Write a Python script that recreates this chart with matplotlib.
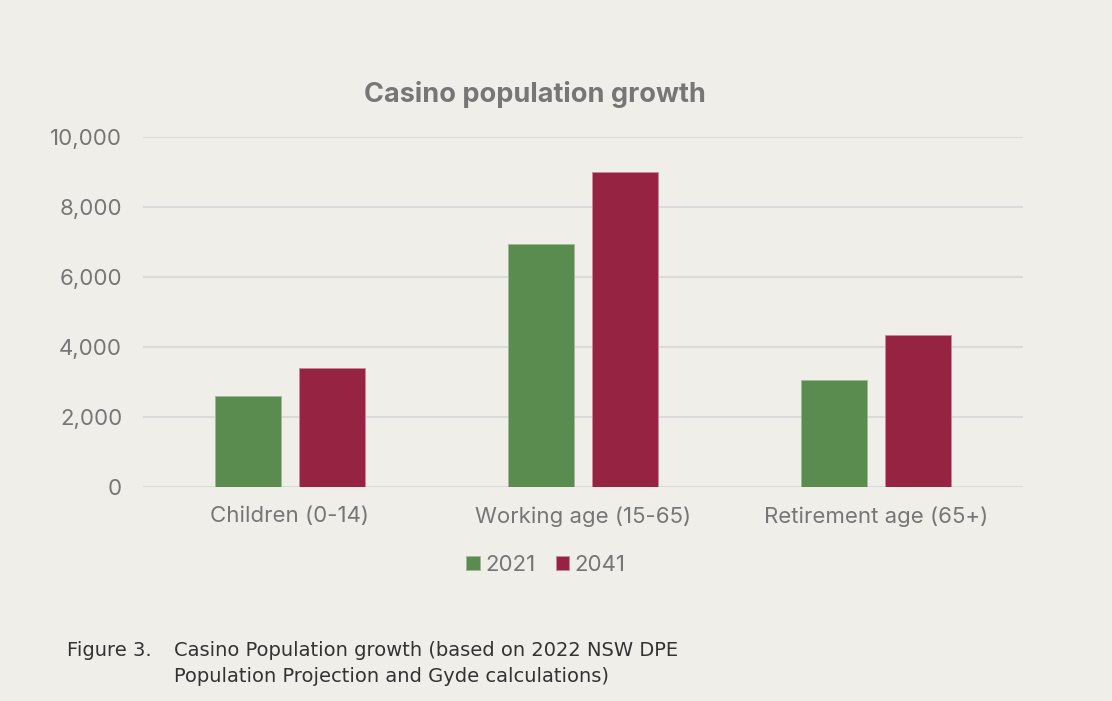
import numpy as np
import matplotlib.pyplot as plt
from matplotlib.ticker import FuncFormatter

# Population by age group, 2021 vs 2041 projection
categories = ['Children (0-14)', 'Working age (15-65)', 'Retirement age (65+)']
years = ['2021', '2041']
pop_2021 = [2600, 6950, 3050]
pop_2041 = [3400, 9000, 4350]

bg = '#efeee8'
green = '#5a8c50'
red = '#972342'
grey = '#767676'
grid_col = '#d9dbdb'

plt.rcParams['font.family'] = ['Inter', 'DejaVu Sans']

fig = plt.figure(figsize=(11.12, 7.01), dpi=100)
fig.set_facecolor(bg)
ax = fig.add_axes([143 / 1112, 1 - 487 / 701, 880 / 1112, 350 / 701])
ax.set_facecolor(bg)

x = np.arange(len(categories))
w = 0.225
off = 0.143
b1 = ax.bar(x - off, pop_2021, width=w, color=green, edgecolor='#9fb898', linewidth=0.6, zorder=3)
b2 = ax.bar(x + off, pop_2041, width=w, color=red, edgecolor='#c88a9a', linewidth=0.6, zorder=3)

ax.set_xlim(-0.5, 2.5)
ax.set_ylim(0, 10000)
ax.set_yticks(range(0, 10001, 2000))
ax.yaxis.set_major_formatter(FuncFormatter(lambda v, p: f'{int(v):,}'))
ax.set_xticks(x)
ax.set_xticklabels(categories)
ax.grid(axis='y', color=grid_col, linewidth=1.5, zorder=0)
for s in ax.spines.values():
    s.set_visible(False)
ax.tick_params(axis='both', length=0, colors=grey, labelsize=16)
ax.tick_params(axis='y', pad=15)
ax.tick_params(axis='x', pad=14)

fig.text(535 / 1112, 1 - 94 / 701, 'Casino population growth', ha='center', va='center',
         fontsize=19.5, fontweight='bold', color=grey)

leg = fig.legend([b1, b2], years, loc='center', bbox_to_anchor=(546 / 1112, 1 - 565 / 701),
                 ncol=2, frameon=False, fontsize=16, handlelength=0.6, handleheight=0.6,
                 handletextpad=0.25, columnspacing=0.9)
for t in leg.get_texts():
    t.set_color(grey)

cap_font = ['DejaVu Sans']
cap_col = '#333333'
fig.text(67 / 1112, 1 - 651 / 701, 'Figure 3.', ha='left', va='center', fontsize=14,
         color=cap_col, family=cap_font)
fig.text(174 / 1112, 1 - 651 / 701, 'Casino Population growth (based on 2022 NSW DPE',
         ha='left', va='center', fontsize=14, color=cap_col, family=cap_font)
fig.text(174 / 1112, 1 - 677 / 701, 'Population Projection and Gyde calculations)',
         ha='left', va='center', fontsize=14, color=cap_col, family=cap_font)

fig.savefig('out.png', dpi=100, facecolor=bg)
